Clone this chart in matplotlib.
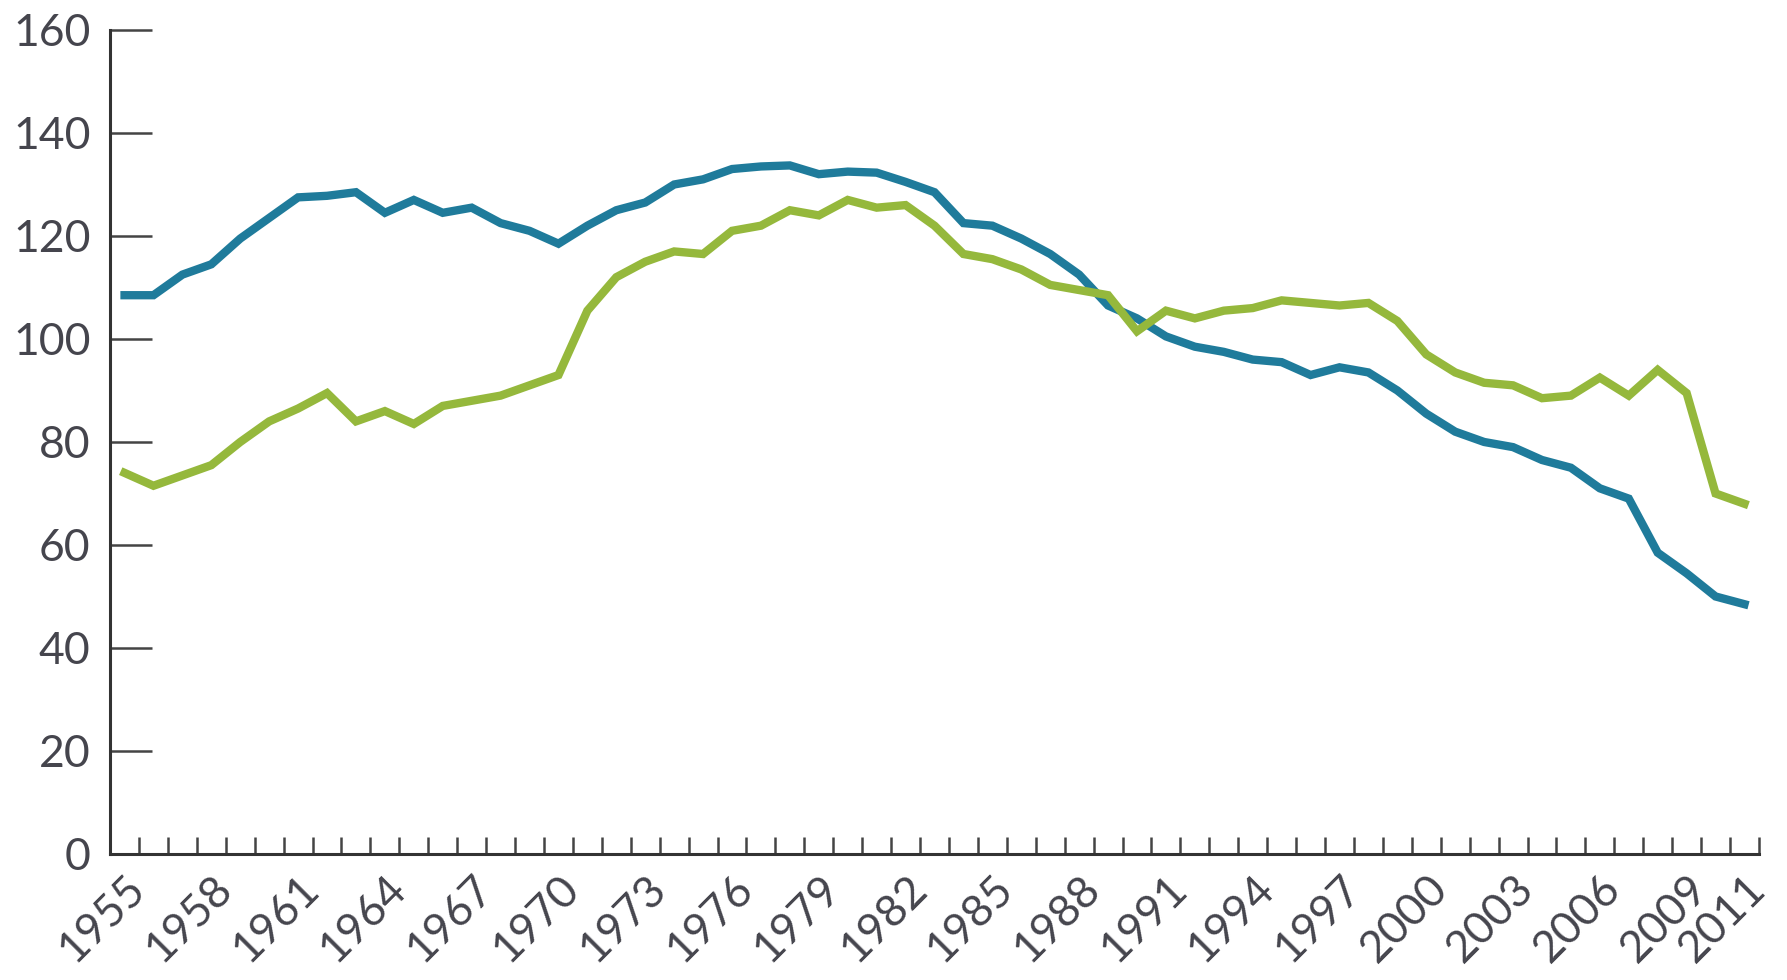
import matplotlib
matplotlib.use("Agg")
import matplotlib.pyplot as plt
import numpy as np

years = list(range(1955, 2012))

blue = [108.5, 108.5, 112.5, 114.5, 119.5, 123.5, 127.5, 127.8, 128.5, 124.5,
        127.0, 124.5, 125.5, 122.5, 121.0, 118.5, 122.0, 125.0, 126.5, 130.0,
        131.0, 133.0, 133.5, 133.7, 132.0, 132.5, 132.3, 130.5, 128.5, 122.5,
        122.0, 119.5, 116.5, 112.5, 106.5, 104.0, 100.5, 98.5, 97.5, 96.0,
        95.5, 93.0, 94.5, 93.5, 90.0, 85.5, 82.0, 80.0, 79.0, 76.5,
        75.0, 71.0, 69.0, 58.5, 54.5, 50.0, 48.5]

green = [74.0, 71.5, 73.5, 75.5, 80.0, 84.0, 86.5, 89.5, 84.0, 86.0,
         83.5, 87.0, 88.0, 89.0, 91.0, 93.0, 105.5, 112.0, 115.0, 117.0,
         116.5, 121.0, 122.0, 125.0, 124.0, 127.0, 125.5, 126.0, 122.0, 116.5,
         115.5, 113.5, 110.5, 109.5, 108.5, 101.5, 105.5, 104.0, 105.5, 106.0,
         107.5, 107.0, 106.5, 107.0, 103.5, 97.0, 93.5, 91.5, 91.0, 88.5,
         89.0, 92.5, 89.0, 94.0, 89.5, 70.0, 68.0]

label_years = list(range(1955, 2010, 3)) + [2011]

plt.rcParams['font.family'] = ['Lato', 'DejaVu Sans']

fig = plt.figure(figsize=(17.87, 9.80), dpi=100)
ax = fig.add_axes([0.0616, 0.1286, 0.9227, 0.8408])

x = np.arange(len(years))
ax.plot(x, blue, color='#1f7b9b', lw=6, solid_joinstyle='miter')
ax.plot(x, green, color='#95b83c', lw=6, solid_joinstyle='miter')

ax.set_xlim(-0.5, len(years) - 0.5)
ax.set_ylim(0, 160)

for s in ['top', 'right']:
    ax.spines[s].set_visible(False)
for s in ['left', 'bottom']:
    ax.spines[s].set_linewidth(2.2)
    ax.spines[s].set_color('#333333')

ax.set_yticks(np.arange(0, 161, 20))
ax.tick_params(axis='y', direction='in', length=30, width=1.8, color='#444444',
               pad=14, labelsize=32, labelcolor='#45454d')

lbl_idx = [years.index(y) for y in label_years]
ax.set_xticks(lbl_idx)
ax.set_xticklabels([str(y) for y in label_years], rotation=45, ha='right',
                   va='top', rotation_mode='anchor')
ax.tick_params(axis='x', which='major', length=0, pad=10, labelsize=32,
               labelcolor='#45454d')
ax.set_xticks(np.arange(0.5, len(years), 1), minor=True)
ax.tick_params(axis='x', which='minor', direction='in', length=12, width=1.8,
               color='#444444')

fig.savefig('out.png', dpi=100)
